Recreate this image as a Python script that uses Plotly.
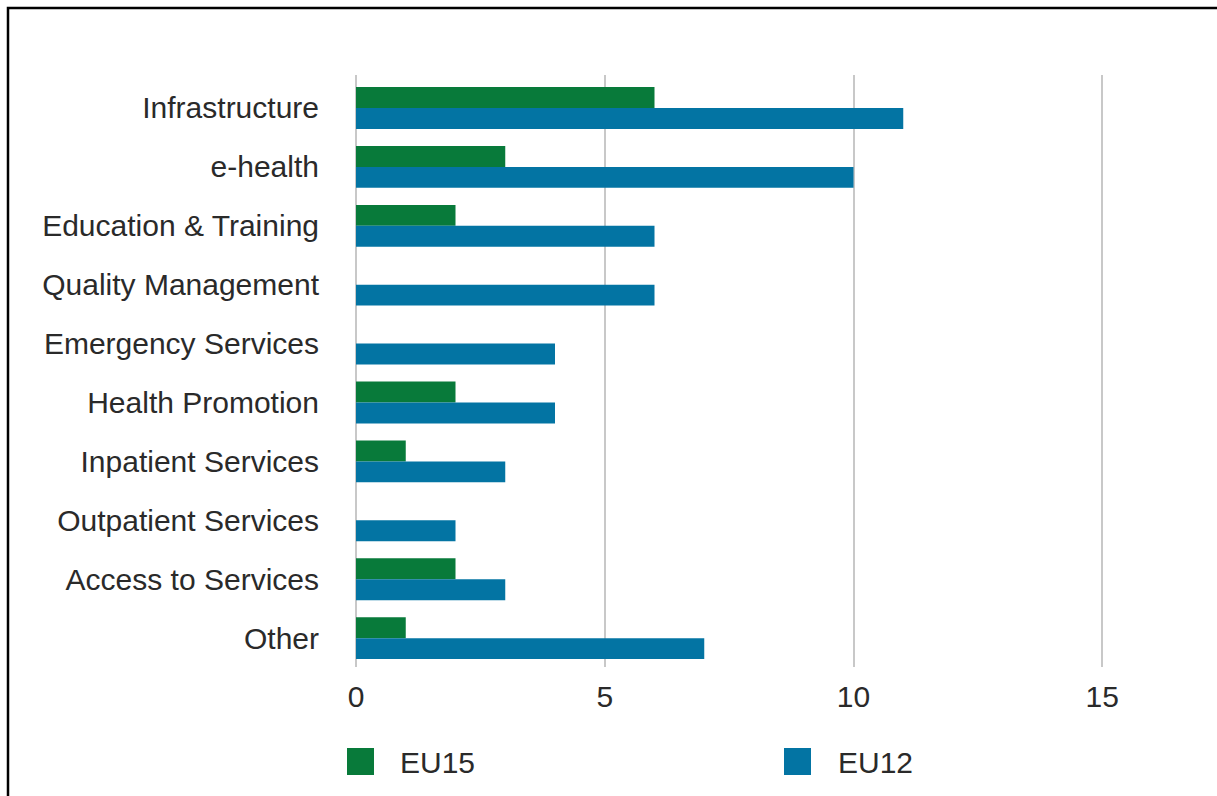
import plotly.graph_objects as go

categories = ["Infrastructure", "e-health", "Education & Training", "Quality Management",
              "Emergency Services", "Health Promotion", "Inpatient Services",
              "Outpatient Services", "Access to Services", "Other"]
eu15 = [6, 3, 2, 0, 0, 2, 1, 0, 2, 1]
eu12 = [11, 10, 6, 6, 4, 4, 3, 2, 3, 7]
series_names = ["EU15", "EU12"]
colors = ["#087a3a", "#0374a3"]
x_ticks = [0, 5, 10, 15]

W, H = 1217, 796
L, R, T, B = 356, 65, 75, 129
pw, ph = W - L - R, H - T - B

def px(x):
    return (x - L) / pw

def py(y):
    return (H - B - y) / ph

fig = go.Figure()
for name, vals, col in zip(series_names, [eu15, eu12], colors):
    fig.add_trace(go.Bar(y=categories, x=vals, name=name, orientation="h",
                         marker=dict(color=col, line=dict(width=0)), showlegend=False))

font = dict(family="Liberation Sans, Arial, sans-serif", size=30, color="#2a2a2a")

fig.update_layout(
    width=W, height=H,
    margin=dict(l=L, r=R, t=T, b=B),
    paper_bgcolor="white", plot_bgcolor="white",
    barmode="group", bargap=0.29, bargroupgap=0,
    font=font,
    xaxis=dict(range=[0, 16], tickvals=x_ticks, showgrid=True, gridcolor="#c8c8c8",
               gridwidth=1.5, zeroline=True, zerolinecolor="#c8c8c8", zerolinewidth=1.5,
               showline=False, ticks="", ticklabelstandoff=9, tickfont=font),
    yaxis=dict(range=[9.49, -0.56], type="category", showgrid=False, zeroline=False,
               showline=False, ticks="", ticklabelstandoff=36, tickfont=font),
)

# frame
fig.add_shape(type="rect", xref="paper", yref="paper",
              x0=px(8), x1=px(1240), y0=py(830), y1=py(8),
              line=dict(color="black", width=2.5), fillcolor="rgba(0,0,0,0)", layer="above")

# manual legend
legend_pos = [(347, 398), (784, 836)]
for (sx, tx), name, col in zip(legend_pos, series_names, colors):
    fig.add_shape(type="rect", xref="paper", yref="paper",
                  x0=px(sx), x1=px(sx + 27), y0=py(775), y1=py(748),
                  line=dict(width=0), fillcolor=col)
    fig.add_annotation(xref="paper", yref="paper", x=px(tx), y=py(762), text=name,
                       showarrow=False, xanchor="left", yanchor="middle", font=font)

fig.write_html("out.html")
